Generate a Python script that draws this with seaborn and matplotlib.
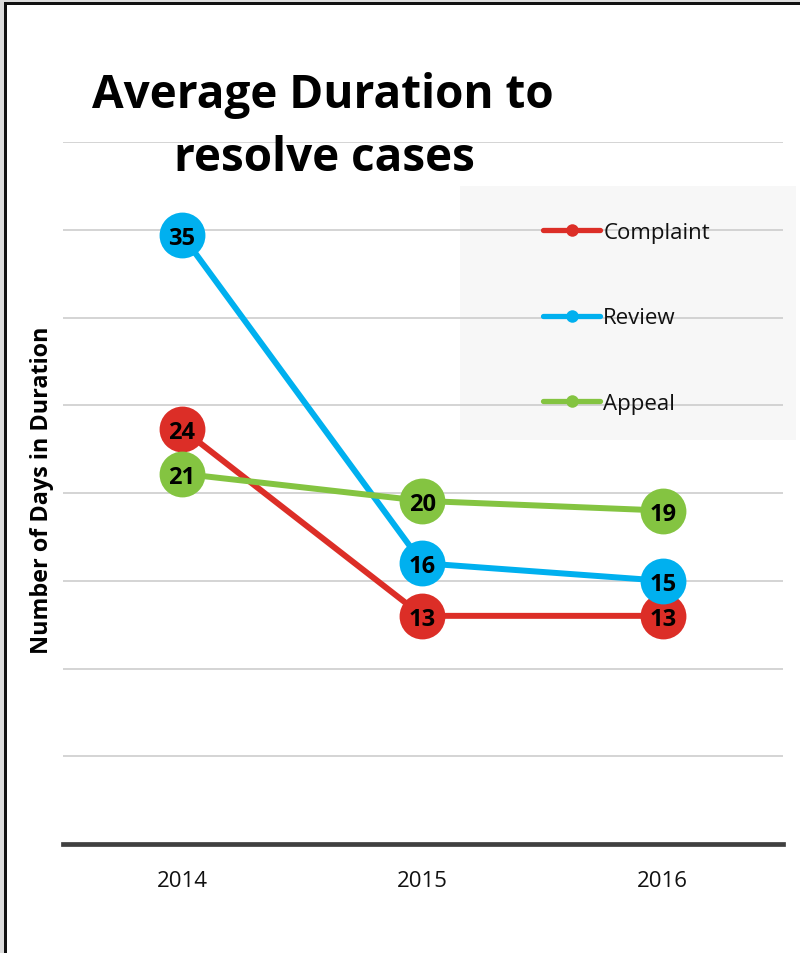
import matplotlib
matplotlib.use("Agg")
import matplotlib.pyplot as plt
from matplotlib.lines import Line2D
from matplotlib.patches import Rectangle
import seaborn as sns
import pandas as pd

# ---- data ----
years = [2014, 2015, 2016]
series_names = ["Complaint", "Review", "Appeal"]
complaint = [23.65, 13.0, 13.0]
review = [34.7, 16.0, 15.0]
appeal = [21.1, 19.55, 19.0]
colors = ["#dc2e27", "#00b0ef", "#84c441"]
title_lines = ["Average Duration to", "resolve cases"]
y_label = "Number of Days in Duration"

rows = []
for name, vals in zip(series_names, [complaint, review, appeal]):
    for yr, v in zip(years, vals):
        rows.append({"year": yr, "days": v, "series": name})
df = pd.DataFrame(rows)

sns.set_theme(style="white")
plt.rcParams["font.family"] = ["Open Sans", "DejaVu Sans"]

W, H = 800, 954
fig = plt.figure(figsize=(W / 100, H / 100), dpi=100)
fig.patch.set_facecolor("white")

ax_left, ax_right = 63, 783
ax_top, ax_bottom = 143, 845
ax = fig.add_axes([ax_left / W, 1 - ax_bottom / H, (ax_right - ax_left) / W, (ax_bottom - ax_top) / H])
ax.set_facecolor("white")

# legend background box (behind gridlines)
ax.add_patch(Rectangle((460 / W, 1 - 441 / H), 336 / W, 254 / H, transform=fig.transFigure,
                       facecolor="#f7f7f7", edgecolor="none", zorder=0.2, clip_on=False))

palette = dict(zip(series_names, colors))
sns.lineplot(data=df, x="year", y="days", hue="series", hue_order=series_names, palette=palette,
             marker="o", markersize=33, markeredgewidth=0, linewidth=4.3, legend=False,
             ax=ax, zorder=3)

for name, vals in zip(series_names, [complaint, review, appeal]):
    for yr, v in zip(years, vals):
        ax.text(yr, v, f"{int(v + 0.5)}", ha="center", va="center_baseline", fontsize=17,
                fontweight="bold", color="black", zorder=10)

ax.set_xlim(years[0] - 0.495, years[-1] + 0.5)
ax.set_ylim(0, 40)
ax.set_yticks(range(0, 41, 5))
ax.set_xticks(years)
ax.set_xticklabels([str(y) for y in years])
ax.tick_params(axis="y", left=False, labelleft=False)
ax.tick_params(axis="x", length=0, pad=19, labelsize=16, labelcolor="#111111")
ax.set_axisbelow(True)
ax.yaxis.grid(True, color="#c9c9c9", linewidth=1.1)
ax.xaxis.grid(False)
for s in ["left", "right", "top"]:
    ax.spines[s].set_visible(False)
ax.spines["bottom"].set_color("#404040")
ax.spines["bottom"].set_linewidth(3.4)
ax.spines["bottom"].set_zorder(5)
ax.set_xlabel("")
ax.set_ylabel(y_label, fontsize=16.8, fontweight="bold", color="black")
ax.yaxis.set_label_coords((54 - ax_left) / (ax_right - ax_left), (ax_bottom - 490) / (ax_bottom - ax_top))

# legend
handles = [Line2D([0], [0], color=c, lw=3.8, marker="o", markersize=9, markeredgewidth=0)
           for c in colors]
leg = ax.legend(handles, series_names, loc="center left",
                bbox_to_anchor=(543 / W, 1 - 319 / H), bbox_transform=fig.transFigure,
                frameon=False, fontsize=16, handlelength=2.57, handletextpad=0.14,
                labelspacing=2.9, borderpad=0, borderaxespad=0)
for t in leg.get_texts():
    t.set_color("#111111")

# title
fig.text(323 / W, 1 - 108 / H, title_lines[0], ha="center", va="baseline", fontsize=33,
         fontweight="bold", color="black")
fig.text(324 / W, 1 - 171 / H, title_lines[1], ha="center", va="baseline", fontsize=33,
         fontweight="bold", color="black")

# screenshot frame (left and top edges)
fig.add_artist(Rectangle((0, 0), 4 / W, 1, transform=fig.transFigure, facecolor="#dcdcdc", edgecolor="none"))
fig.add_artist(Rectangle((0, 1 - 3 / H), 1, 3 / H, transform=fig.transFigure, facecolor="#dcdcdc", edgecolor="none"))
fig.add_artist(Rectangle((4 / W, 0), 3 / W, 1 - 3 / H, transform=fig.transFigure, facecolor="#111111", edgecolor="none"))
fig.add_artist(Rectangle((4 / W, 1 - 6 / H), 1, 3 / H, transform=fig.transFigure, facecolor="#111111", edgecolor="none"))

fig.savefig("out.png", dpi=100, facecolor="white")
